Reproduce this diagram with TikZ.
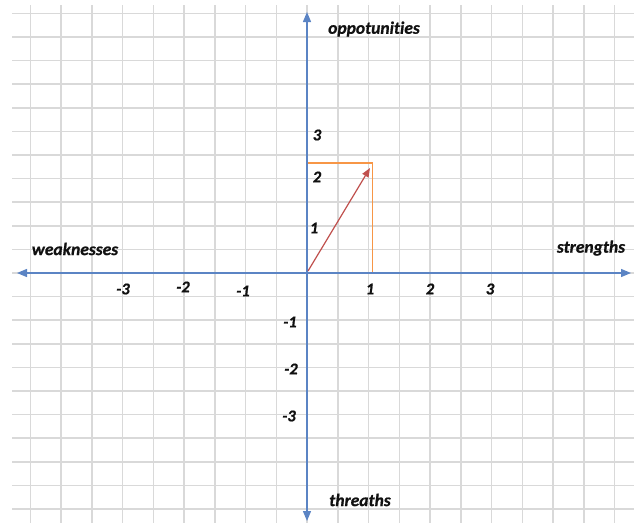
\documentclass[tikz,border=0pt]{standalone}
\usepackage{fontspec}
\setmainfont{Carlito}[Ligatures=NoCommon, BoldItalicFont={Carlito Bold Italic}, BoldItalicFeatures={FakeBold=0.8}]
\usetikzlibrary{arrows.meta}
\definecolor{gridc}{HTML}{D9D9D9}
\definecolor{axisc}{HTML}{5B84C4}
\definecolor{vecc}{HTML}{C0504D}
\definecolor{boxc}{HTML}{F79646}
\definecolor{txt}{HTML}{111111}
\tikzset{
  gridline/.style={gridc, line width=1.5pt},
  axisline/.style={axisc, line width=1.3pt, -{Triangle[length=10pt,width=8pt]}},
  veca/.style={vecc, line width=1.2pt, -{Triangle[length=9pt,width=7pt]}},
  boxline/.style={boxc, line width=1.1pt},
  lbl/.style={font=\fontsize{17.5}{19}\selectfont\bfseries\itshape, text=txt, inner sep=0pt},
  tick/.style={font=\fontsize{16.5}{18}\selectfont\bfseries\itshape, text=txt, inner sep=0pt},
}
\begin{document}
\begin{tikzpicture}[x=1pt,y=-1pt]
\useasboundingbox[fill=white] (0,0) rectangle (634,523);
% grid
\foreach \k in {-10,...,10} {
  \draw[gridline] (307+30.75*\k,5) -- (307+30.75*\k,523);
}
\foreach \k in {-11,...,10} {
  \draw[gridline] (12,273+23.6*\k) -- (634,273+23.6*\k);
}
% coordinates
\coordinate (O) at (307,273);
\coordinate (right) at (631,273);
\coordinate (left) at (17,273);
\coordinate (top) at (307,12);
\coordinate (bottom) at (307,521);
\coordinate (c1) at (307,163);
\coordinate (c2) at (372.5,163);
\coordinate (c3) at (372.5,273);
\coordinate (vs) at (308,271);
\coordinate (vt) at (370,168);
% box
\draw[boxline] (c1) -- (c2) -- (c3);
% axes
\draw[axisline] (O) -- (right);
\draw[axisline] (O) -- (left);
\draw[axisline] (O) -- (top);
\draw[axisline] (O) -- (bottom);
% vector
\draw[veca] (vs) -- (vt);
% axis labels
\node[lbl] (opp) at (374,29) {oppot\kern0pt unit\kern0pt ies};
\node[lbl] (str) at (591,248) {strengths};
\node[lbl] (weak) at (75,249) {weaknesses};
\node[lbl] (thr) at (360,500) {threaths};
% ticks x
\node[tick] (x1) at (370,289) {1};
\node[tick] (x2) at (430,289) {2};
\node[tick] (x3) at (490,289) {3};
\node[tick] (xm1) at (243,291) {-1};
\node[tick] (xm2) at (183,287) {-2};
\node[tick] (xm3) at (123,289) {-3};
% ticks y
\node[tick] (y3) at (317,135) {3};
\node[tick] (y2) at (317,177) {2};
\node[tick] (y1) at (314,228) {1};
\node[tick] (ym1) at (290,322) {-1};
\node[tick] (ym2) at (291,369) {-2};
\node[tick] (ym3) at (289,416) {-3};
\end{tikzpicture}
\end{document}
